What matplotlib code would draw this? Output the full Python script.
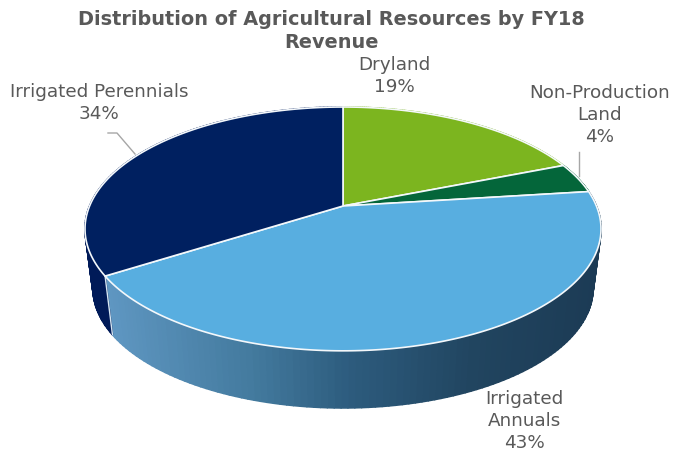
import matplotlib
matplotlib.use("Agg")
import matplotlib.pyplot as plt
import numpy as np
from matplotlib.collections import PolyCollection
from matplotlib.colors import LinearSegmentedColormap

categories = ["Dryland", "Non-Production\nLand", "Irrigated\nAnnuals", "Irrigated Perennials"]
shares = [19, 4, 43, 34]
colors = ["#7cb51f", "#04663a", "#58aee0", "#002060"]
label_pos = [(394, 76), (600, 115), (524, 421), (99, 103)]

# pie is drawn in pixel coords with a perspective map of the unit circle
cx = 343
top_y = 207
bottom_y = 267
k = 0.188
sx = 253.4
sy = 117.6


def project(theta, bottom=False):
    u = np.sin(theta)
    v = np.cos(theta)
    d = 1 + k * v
    x = sx * u / d
    y = sy * v / d
    if bottom:
        return cx + 0.969 * x, bottom_y - 0.98 * y
    return cx + x, top_y - y


fig = plt.figure(figsize=(6.75, 4.52), dpi=100)
ax = fig.add_axes([0, 0, 1, 1])
ax.set_xlim(0, 675)
ax.set_ylim(452, 0)
ax.axis("off")

edges = np.cumsum([0] + shares) / sum(shares) * 2 * np.pi

# side wall, only the front part shows
side_cmap = LinearSegmentedColormap.from_list(
    "side", [(0, "#5f97c2"), (0.3, "#437a9e"), (0.5, "#2d5c7e"), (0.75, "#214560"), (1, "#1c3b55")]
)
for i, name in enumerate(categories):
    t = np.linspace(edges[i], edges[i + 1], 120)
    x0, y0 = project(t)
    x1, y1 = project(t, bottom=True)
    quads = []
    for j in range(len(t) - 1):
        quads.append([(x0[j], y0[j]), (x0[j + 1], y0[j + 1]), (x1[j + 1], y1[j + 1]), (x1[j], y1[j])])
    if name == "Irrigated\nAnnuals":
        pos = np.clip((x0[:-1] - 105) / 495, 0, 1)
        fc = side_cmap(pos)
    elif name == "Irrigated Perennials":
        fc = "#001a58"
    else:
        fc = colors[i]
    ax.add_collection(PolyCollection(quads, facecolors=fc, edgecolors=fc, linewidths=1.2, zorder=1 + i * 0.1))

# top surface
for i in range(len(shares)):
    t = np.linspace(edges[i], edges[i + 1], 200)
    x0, y0 = project(t)
    ax.fill(np.r_[cx, x0], np.r_[top_y, y0], color=colors[i], ec="#f4f8fb", lw=1.2, joinstyle="round", zorder=3)

# white seam on the wall
xa, ya = project(edges[3])
xb, yb = project(edges[3], bottom=True)
ax.plot([xa, xb], [ya, yb], color="#d5e6f2", lw=1.0, zorder=2.5)

# leader lines
ax.plot([108, 117, 135], [134, 134, 155], color="#a6a6a6", lw=1, zorder=2)
ax.plot([579, 579], [153, 177], color="#a6a6a6", lw=1, zorder=2)

for name, share, (lx, ly) in zip(categories, shares, label_pos):
    ax.text(lx, ly, "{}\n{}%".format(name, share), ha="center", va="center", fontsize=13.2,
            color="#595959", linespacing=1.28, zorder=5)

ax.text(331, 31, "Distribution of Agricultural Resources by FY18\nRevenue", ha="center", va="center",
        fontsize=13.85, fontweight="bold", color="#595959", linespacing=1.28, zorder=5)

fig.savefig("out.png", dpi=100)
